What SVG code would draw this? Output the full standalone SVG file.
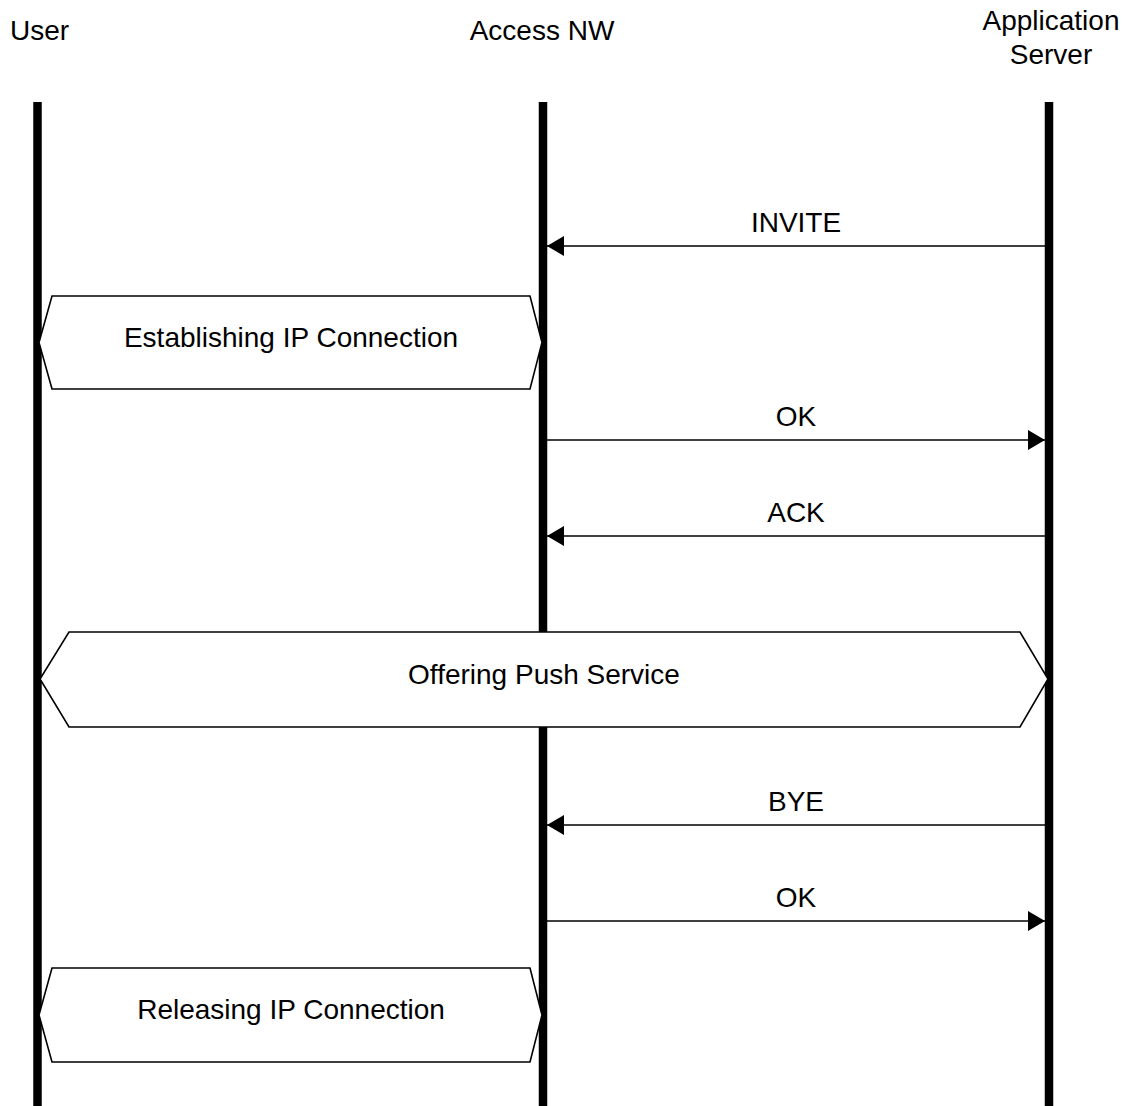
<svg xmlns="http://www.w3.org/2000/svg" width="1122" height="1106" viewBox="0 0 1122 1106">
<style>
text{font-family:"Liberation Sans",Arial,sans-serif;font-size:28px;fill:#000}
.life{stroke:#000;stroke-width:8.5;fill:none}
.msg{stroke:#000;stroke-width:1.6;fill:none;marker-end:url(#ah)}
.box{fill:#fff;stroke:#000;stroke-width:1.6}
</style>
<defs>
<marker id="ah" markerUnits="userSpaceOnUse" markerWidth="18" markerHeight="20" refX="17" refY="10" orient="auto" viewBox="0 0 18 20">
<path d="M0,0 L17,10 L0,20 z" fill="#000"/>
</marker>
</defs>
<rect width="1122" height="1106" fill="#fff"/>
<g id="user">
<text x="10" y="40">User</text>
<line class="life" x1="37.5" y1="102" x2="37.5" y2="1106"/>
</g>
<g id="access">
<text x="542" y="40" text-anchor="middle">Access NW</text>
<line class="life" x1="543" y1="102" x2="543" y2="1106"/>
</g>
<g id="appserver">
<text x="1051" y="30" text-anchor="middle">Application</text>
<text x="1051" y="64" text-anchor="middle">Server</text>
<line class="life" x1="1049" y1="102" x2="1049" y2="1106"/>
</g>
<g id="connectors">
<line class="msg" x1="1045" y1="246" x2="547" y2="246"/>
<text x="796" y="232" text-anchor="middle">INVITE</text>
<line class="msg" x1="547" y1="440" x2="1045" y2="440"/>
<text x="796" y="426" text-anchor="middle">OK</text>
<line class="msg" x1="1045" y1="536" x2="547" y2="536"/>
<text x="796" y="522" text-anchor="middle">ACK</text>
<line class="msg" x1="1045" y1="825" x2="547" y2="825"/>
<text x="796" y="811" text-anchor="middle">BYE</text>
<line class="msg" x1="547" y1="921" x2="1045" y2="921"/>
<text x="796" y="907" text-anchor="middle">OK</text>
</g>
<g id="establishing">
<polygon class="box" points="52,296 530,296 542,342.5 530,389 52,389 39,342.5"/>
<text x="291" y="347" text-anchor="middle">Establishing IP Connection</text>
</g>
<g id="offering">
<polygon class="box" points="69,632 1020,632 1048,679 1020,727 69,727 40,679"/>
<text x="544" y="684" text-anchor="middle">Offering Push Service</text>
</g>
<g id="releasing">
<polygon class="box" points="52,968 530,968 542,1015 530,1062 52,1062 39,1015"/>
<text x="291" y="1019" text-anchor="middle">Releasing IP Connection</text>
</g>
</svg>
